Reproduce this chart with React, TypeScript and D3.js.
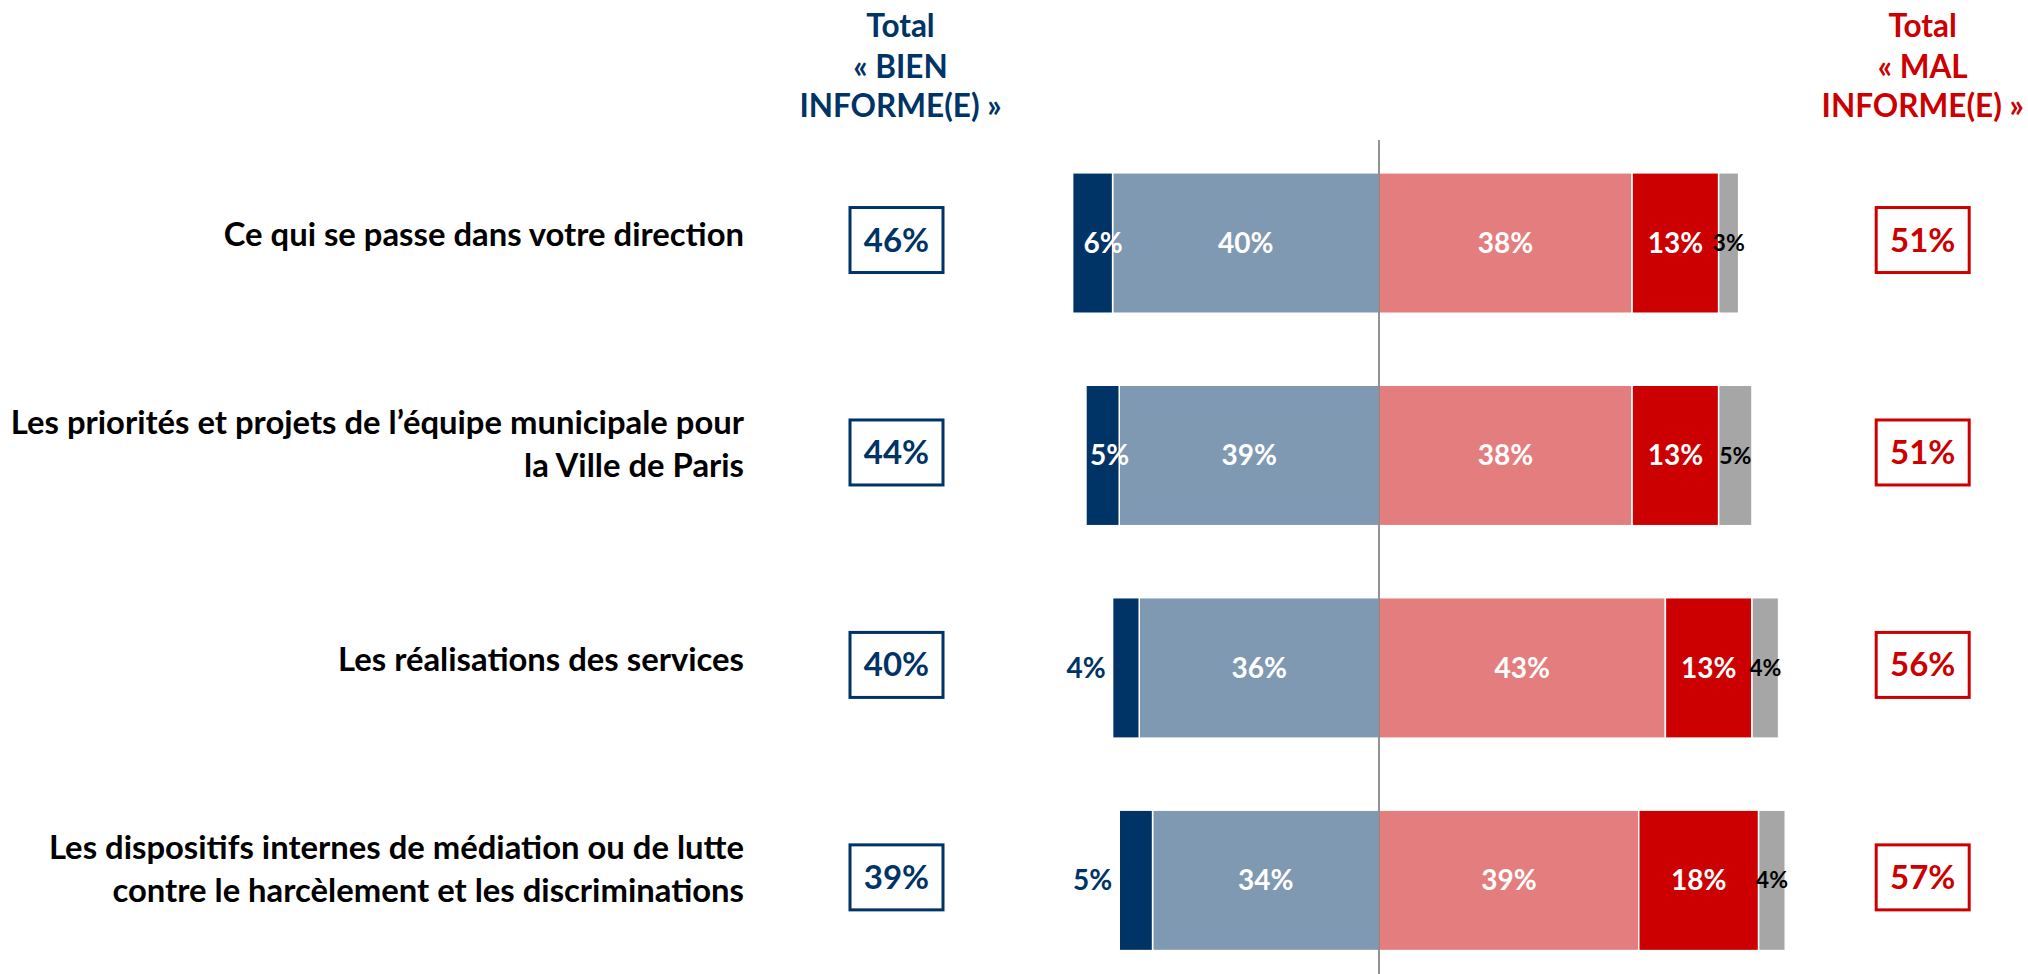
import React from "react";
import * as d3 from "d3";

// chart values
const categories = [
  "Ce qui se passe dans votre direction",
  "Les priorités et projets de l’équipe municipale pour la Ville de Paris",
  "Les réalisations des services",
  "Les dispositifs internes de médiation ou de lutte contre le harcèlement et les discriminations",
];
const categoryLines = [
  ["Ce qui se passe dans votre direction"],
  ["Les priorités et projets de l’équipe municipale pour", "la Ville de Paris"],
  ["Les réalisations des services"],
  ["Les dispositifs internes de médiation ou de lutte", "contre le harcèlement et les discriminations"],
];
const tresBien = [6, 5, 4, 5];
const plutotBien = [40, 39, 36, 34];
const plutotMal = [38, 38, 43, 39];
const tresMal = [13, 13, 13, 18];
const nsp = [3, 5, 4, 4];
const totalBien = [46, 44, 40, 39];
const totalMal = [51, 51, 56, 57];
const navyLabelOutside = [false, false, true, true];

const W = 2028;
const H = 974;
const FONT = "Lato, 'Open Sans', sans-serif";
const NAVY = "#003366";
const RED = "#CC0000";
const colors = {
  tresBien: "#003366",
  plutotBien: "#7F99B2",
  plutotMal: "#E47E7E",
  tresMal: "#CC0000",
  nsp: "#A6A6A6",
};

export default function App() {
  const x = d3.scaleLinear().domain([-50, 60]).range([1046, 1778.6]);
  const y = d3
    .scaleBand()
    .domain(categories)
    .range([136.7, 986.7])
    .paddingInner(0.339)
    .paddingOuter(0.17);
  const bw = y.bandwidth();

  const rows = categories.map((c, i) => {
    const segs = [
      { key: "plutotBien", x0: -plutotBien[i], x1: 0, v: plutotBien[i] },
      { key: "tresBien", x0: -plutotBien[i] - tresBien[i], x1: -plutotBien[i], v: tresBien[i] },
      { key: "plutotMal", x0: 0, x1: plutotMal[i], v: plutotMal[i] },
      { key: "tresMal", x0: plutotMal[i], x1: plutotMal[i] + tresMal[i], v: tresMal[i] },
      {
        key: "nsp",
        x0: plutotMal[i] + tresMal[i],
        x1: plutotMal[i] + tresMal[i] + nsp[i],
        v: nsp[i],
      },
    ];
    return { c, i, segs, top: y(c)!, cy: y(c)! + bw / 2 };
  });

  const leftBoxX = 896.5;
  const rightBoxX = 1922.7;
  const boxW = 93;
  const boxH = 65;

  return (
    <svg
      width={W}
      height={H}
      style={{ position: "absolute", left: 0, top: 0, background: "#fff" }}
      fontFamily={FONT}
      fontWeight="bold"
    >
      {/* headers */}
      <g fill={NAVY} fontSize={31.5} textAnchor="middle">
        <text x={leftBoxX + 4} y={37}>Total</text>
        <text x={leftBoxX + 4} y={78}>« BIEN</text>
        <text x={leftBoxX + 4} y={117}>INFORME(E) »</text>
      </g>
      <g fill={RED} fontSize={31.5} textAnchor="middle">
        <text x={rightBoxX} y={37}>Total</text>
        <text x={rightBoxX} y={78}>« MAL</text>
        <text x={rightBoxX} y={117}>INFORME(E) »</text>
      </g>

      {rows.map((r) => (
        <g key={r.c}>
          {/* category label */}
          <text fontSize={32.8} textAnchor="end" fill="#000">
            {categoryLines[r.i].length === 1 ? (
              <tspan x={744} y={r.cy + 3}>{categoryLines[r.i][0]}</tspan>
            ) : (
              categoryLines[r.i].map((l, k) => (
                <tspan key={k} x={744} y={r.cy - 21 + k * 43}>
                  {l}
                </tspan>
              ))
            )}
          </text>

          {/* bars */}
          {r.segs.map((s) => (
            <rect
              key={s.key}
              x={x(s.x0)}
              y={r.top}
              width={x(s.x1) - x(s.x0)}
              height={bw}
              fill={(colors as any)[s.key]}
              stroke="#fff"
              strokeWidth={1.5}
            />
          ))}

          {/* segment labels */}
          {r.segs.map((s) => {
            if (s.key === "tresBien") {
              const out = navyLabelOutside[r.i];
              return (
                <text
                  key={s.key + "l"}
                  x={out ? x(s.x0) - 7 : x(s.x1) + 10}
                  y={r.cy}
                  dy="0.35em"
                  textAnchor="end"
                  fontSize={28}
                  fill={out ? NAVY : "#fff"}
                >
                  {s.v}%
                </text>
              );
            }
            const small = s.key === "nsp";
            return (
              <text
                key={s.key + "l"}
                x={(x(s.x0) + x(s.x1)) / 2}
                y={r.cy}
                dy="0.35em"
                textAnchor="middle"
                fontSize={small ? 23 : 28}
                fill={small ? "#000" : "#fff"}
              >
                {s.v}%
              </text>
            );
          })}

          {/* totals */}
          <rect
            x={leftBoxX - boxW / 2}
            y={r.cy - 3 - boxH / 2}
            width={boxW}
            height={boxH}
            fill="#fff"
            stroke={NAVY}
            strokeWidth={3}
          />
          <text x={leftBoxX} y={r.cy - 3} dy="0.35em" textAnchor="middle" fontSize={33} fill={NAVY}>
            {totalBien[r.i]}%
          </text>
          <rect
            x={rightBoxX - boxW / 2}
            y={r.cy - 3 - boxH / 2}
            width={boxW}
            height={boxH}
            fill="#fff"
            stroke={RED}
            strokeWidth={3}
          />
          <text x={rightBoxX} y={r.cy - 3} dy="0.35em" textAnchor="middle" fontSize={33} fill={RED}>
            {totalMal[r.i]}%
          </text>
        </g>
      ))}

      {/* center line */}
      <line x1={x(0)} x2={x(0)} y1={140} y2={H} stroke="#595959" strokeWidth={1.3} />
    </svg>
  );
}
